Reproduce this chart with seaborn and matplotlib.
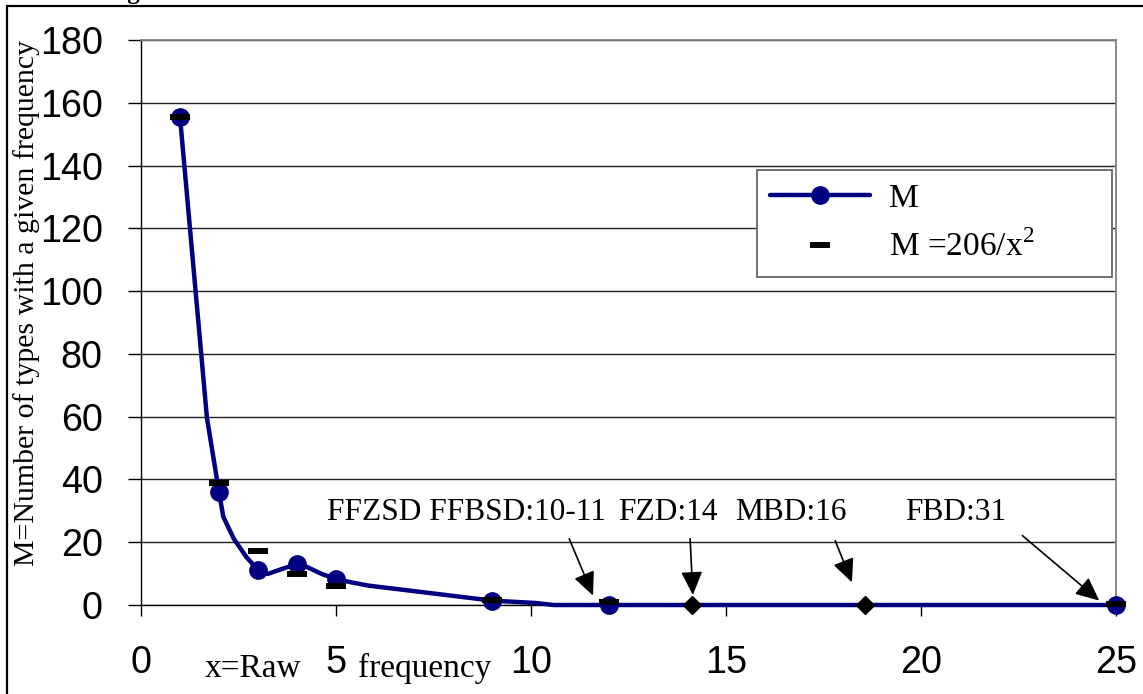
import matplotlib
matplotlib.use("Agg")
import matplotlib.pyplot as plt
import seaborn as sb
from matplotlib.lines import Line2D
from matplotlib.patches import Rectangle


# observed M at each raw frequency (circle markers)
freq = [1, 2, 3, 4, 5, 9, 12, 25]
m_obs = [155.5, 36.0, 11.2, 13.1, 8.3, 1.4, 0.0, 0.0]
# fitted M = 206/x^2 as drawn (dash markers)
m_fit = [155.5, 38.9, 17.1, 9.9, 6.2, 1.6, 0.9, 0.3]

# smoothed curve of M, vertices
curve_x = [1, 1.69, 2, 2.11, 2.38, 2.70, 3, 3.25, 3.62, 4, 4.26, 4.63, 5,
           5.36, 5.82, 9, 10.12, 10.58, 12, 25]
curve_y = [155.5, 59.7, 36.0, 28.1, 21.1, 15.3, 11.2, 9.9, 11.5, 13.1, 12.1,
           9.9, 8.3, 7.3, 6.2, 1.4, 0.64, 0.0, 0.0, 0.0]

# extra dyads (diamonds)
dyad_x = [14.13, 18.56]
dyad_y = [0, 0]

# annotations
note_text = ["FFZSD FFBSD:10-11", "FZD:14", "MBD:16", "FBD:31"]
note_x = [4.76, 12.23, 15.23, 19.6]
note_y = 27.0
arrow_from = [(10.98, 21.1), (14.08, 21.1), (17.8, 20.5), (22.6, 22.1)]
arrow_to = [(11.59, 3.0), (14.15, 3.2), (18.23, 7.2), (24.57, 1.4)]

x_ticks = [0, 5, 10, 15, 20, 25]
y_ticks = [0, 20, 40, 60, 80, 100, 120, 140, 160, 180]

NAVY = "#000080"
SERIF = "Liberation Serif"
SANS = "Liberation Sans"

sb.set_style("ticks")
plt.rcParams["font.family"] = [SERIF, "DejaVu Serif"]
plt.rcParams["mathtext.fontset"] = "custom"
plt.rcParams["mathtext.rm"] = SERIF
plt.rcParams["text.color"] = "black"
plt.rcParams["axes.labelcolor"] = "black"

fig = plt.figure(figsize=(11.43, 6.94), dpi=100)
ax = fig.add_axes([141 / 1143, 1 - 605 / 694, 975 / 1143, 565 / 694])

# curve, circles, dashes, diamonds
sb.lineplot(x=curve_x, y=curve_y, sort=False, color=NAVY, lw=3.2,
            clip_on=False, zorder=3, ax=ax)
sb.lineplot(x=freq, y=m_obs, color=NAVY, linestyle="none", marker="o",
            markersize=13.5, markeredgecolor=NAVY, markeredgewidth=0,
            clip_on=False, zorder=4, ax=ax)
sb.lineplot(x=freq, y=m_fit, color="black", linestyle="none", marker="_",
            markersize=15, markeredgecolor="black", markeredgewidth=4.3,
            clip_on=False, zorder=5, ax=ax)
sb.lineplot(x=dyad_x, y=dyad_y, color="black", linestyle="none", marker="D",
            markersize=9, markeredgecolor="black", markeredgewidth=1,
            clip_on=False, zorder=5, ax=ax)

for txt, tx in zip(note_text, note_x):
    ax.text(tx, note_y, txt, fontsize=22.6, family=SERIF, ha="left", va="baseline")
for a, b in zip(arrow_from, arrow_to):
    ax.annotate("", xy=b, xytext=a,
                arrowprops=dict(arrowstyle="-|>,head_length=0.72,head_width=0.33",
                                mutation_scale=20, color="black", lw=1.2,
                                shrinkA=0, shrinkB=0),
                annotation_clip=False, zorder=6)

ax.set_xlim(0, 25)
ax.set_ylim(0, 180)
ax.set_xticks(x_ticks)
ax.set_yticks(y_ticks)
ax.tick_params(axis="both", labelsize=27.2, labelfontfamily=SANS, color="black",
               labelcolor="black", width=1)
ax.tick_params(axis="x", length=8, pad=21, bottom=True)
ax.tick_params(axis="y", length=9.5, pad=18, left=True)
ax.yaxis.grid(True, color="#222222", lw=1.0)
ax.xaxis.grid(False)
ax.set_axisbelow(True)
for side in ["top", "right"]:
    ax.spines[side].set_visible(True)
    ax.spines[side].set_color("#808080")
    ax.spines[side].set_linewidth(1.3)
for side in ["left", "bottom"]:
    ax.spines[side].set_color("black")
    ax.spines[side].set_linewidth(1.0)

ax.set_xlabel("")
ax.set_ylabel("M=Number of types with a given frequency", fontsize=21.5, family=SERIF)
ax.yaxis.set_label_coords(-0.1036, 0.535)

xt = ax.get_xaxis_transform()
ax.text(1.64, -0.1274, "x=Raw", transform=xt, fontsize=24, family=SERIF,
        ha="left", va="baseline")
ax.text(5.56, -0.1274, "frequency", transform=xt, fontsize=24, family=SERIF,
        ha="left", va="baseline")

handles = [
    Line2D([], [], color=NAVY, lw=3.2, marker="o", markersize=13.5, markeredgewidth=0),
    Line2D([], [], color="black", linestyle="none", marker="_", markersize=15,
           markeredgewidth=4.3),
]
leg = ax.legend(handles, ["M", r"M =206/x$^{\mathrm{2}}$"],
                loc="upper left", mode="expand",
                bbox_to_anchor=(757 / 1143, 1 - 283 / 694, 355 / 1143, 113 / 694),
                bbox_transform=fig.transFigure,
                prop={"family": SERIF, "size": 24},
                handlelength=3.0, handletextpad=0.55, borderpad=0.4,
                labelspacing=0.5, fancybox=False, framealpha=1,
                edgecolor="#666666", borderaxespad=0)
leg.get_frame().set_linewidth(1.3)

# outer chart border and the clipped caption above it
fig.add_artist(Rectangle((7 / 1143, -0.1), 1.2, 1 - 6 / 694 + 0.1,
                         transform=fig.transFigure, fill=False,
                         edgecolor="black", lw=1.6, clip_on=False))
fig.text(106 / 1143, 1 + 0.5 / 694, "Figure", fontsize=18, fontweight="bold",
         family=SERIF, va="baseline")

fig.savefig("out.png", dpi=100)
